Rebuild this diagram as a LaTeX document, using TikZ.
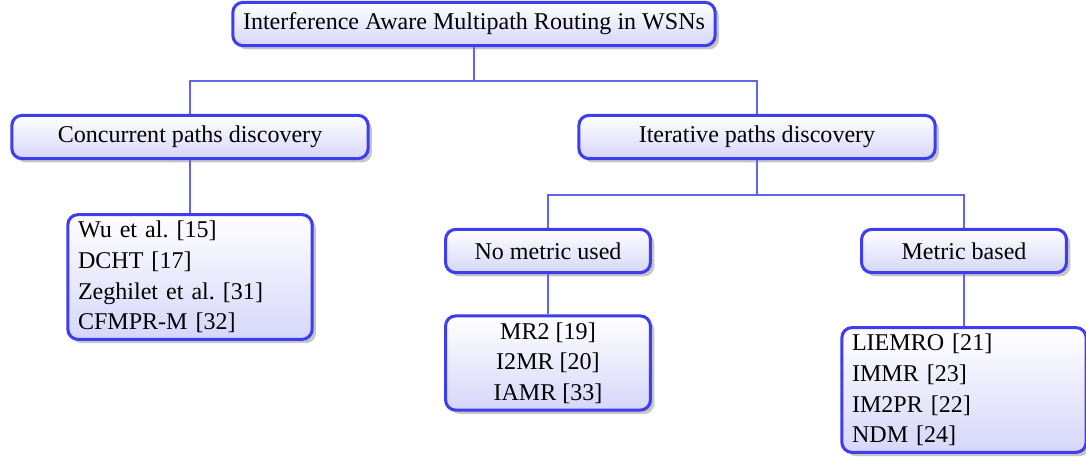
\documentclass[tikz,border=0pt]{standalone}
\usepackage{fontspec}
\setmainfont{Liberation Serif}
\frenchspacing
\usetikzlibrary{shadows}
\definecolor{boxline}{RGB}{62,62,240}
\definecolor{linkline}{RGB}{100,100,235}
\definecolor{boxfill}{RGB}{214,214,250}
\tikzset{
  tbox/.style={draw=boxline, line width=1.2pt, rounded corners=4pt,
    top color=white, bottom color=boxfill,
    drop shadow={shadow xshift=1.5pt, shadow yshift=-1.5pt, opacity=.45},
    font=\fontsize{9.45}{12}\selectfont, inner sep=4pt, minimum height=17pt},
  catbox/.style={tbox, minimum width=140pt},
  subbox/.style={tbox, minimum width=80.5pt},
  leafbox/.style={tbox, align=left, text width=88pt, inner ysep=2.6pt},
  midleaf/.style={tbox, align=center, minimum width=80.5pt, inner ysep=2.6pt},
  link/.style={draw=linkline, line width=0.6pt}
}
\begin{document}
\begin{tikzpicture}[x=0.3929pt, y=-0.3929pt]
  \useasboundingbox (0,0) rectangle (1086,460);

  % top of the tree
  \node[tbox] (root) at (474,24) {Interference Aware Multipath Routing in WSNs};

  % the two families
  \node[catbox] (conc) at (190,137) {Concurrent paths discovery};
  \node[catbox] (iter) at (757,137) {Iterative paths discovery};

  % sub classes of iterative
  \node[subbox] (nometric) at (548,251) {No metric used};
  \node[subbox] (metric) at (964,251) {Metric based};

  % protocols
  \node[leafbox] (concleaf) at (190,277) {Wu et al. [15]\\DCHT [17]\\Zeghilet et al. [31]\\CFMPR-M [32]};
  \node[midleaf] (noleaf) at (548,363) {MR2 [19]\\I2MR [20]\\IAMR [33]};
  \node[leafbox] (metleaf) at (964,390) {LIEMRO [21]\\IMMR [23]\\IM2PR [22]\\NDM [24]};

  % connectors
  \draw[link] (root.south) -- ++(0,34) -| (conc.north);
  \draw[link] (root.south) -- ++(0,34) -| (iter.north);
  \draw[link] (conc.south) -- (concleaf.north);
  \draw[link] (iter.south) -- ++(0,35) -| (nometric.north);
  \draw[link] (iter.south) -- ++(0,35) -| (metric.north);
  \draw[link] (nometric.south) -- (noleaf.north);
  \draw[link] (metric.south) -- (metleaf.north);
\end{tikzpicture}
\end{document}
